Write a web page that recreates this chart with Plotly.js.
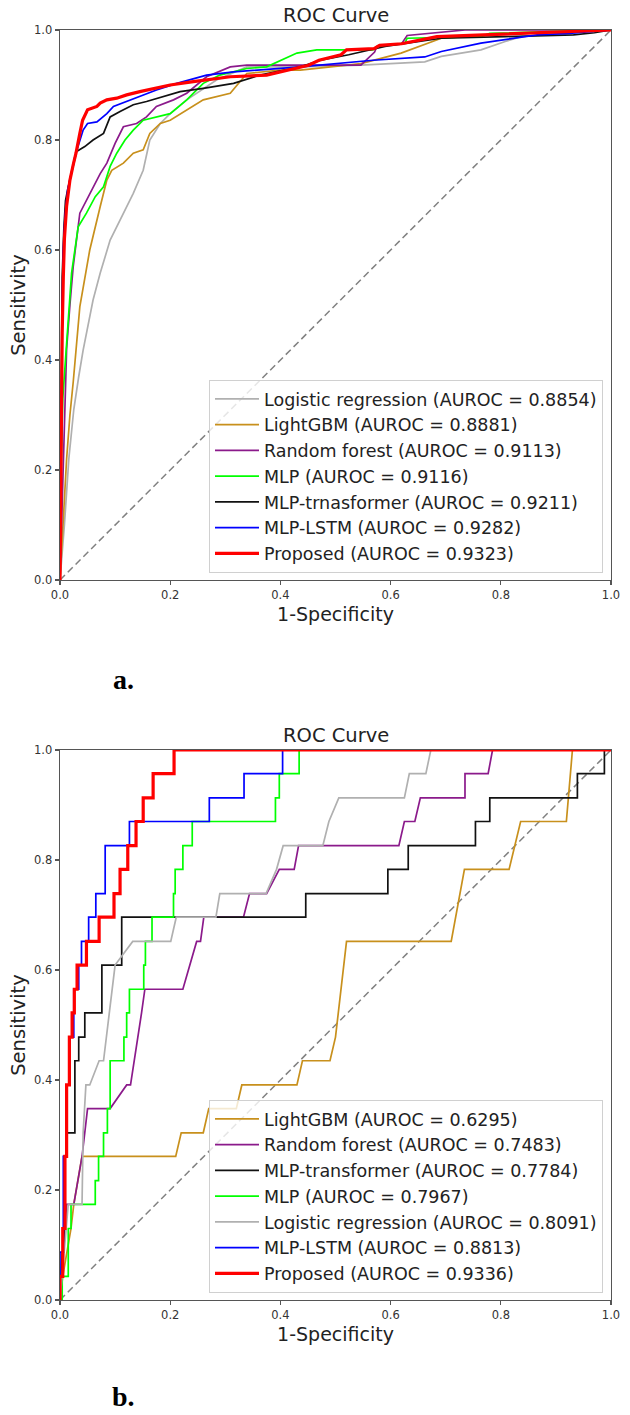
<!DOCTYPE html>
<html>
<head>
<meta charset="utf-8">
<script src="https://cdn.plot.ly/plotly-3.0.1.min.js"></script>
<style>
  html, body { margin: 0; padding: 0; background: #ffffff; }
  #roc { width: 630px; height: 1415px; }
</style>
</head>
<body>
<div id="roc"></div>
<script>
// ---------- Panel a: ROC points (false positive rate / true positive rate) ----------
const lrA_fpr  = [0, 0.008, 0.016, 0.025, 0.034, 0.042, 0.060, 0.073, 0.091, 0.115, 0.133, 0.151, 0.163, 0.182, 0.200, 0.230, 0.284, 0.339, 0.436, 0.546, 0.662, 0.692, 0.764, 0.808, 0.837, 0.920, 1.0];
const lrA_tpr  = [0, 0.100, 0.220, 0.310, 0.370, 0.418, 0.509, 0.558, 0.618, 0.667, 0.703, 0.745, 0.800, 0.830, 0.848, 0.873, 0.909, 0.933, 0.933, 0.936, 0.942, 0.952, 0.964, 0.979, 0.988, 0.995, 1.0];

const gbmA_fpr = [0, 0.006, 0.012, 0.018, 0.024, 0.036, 0.054, 0.073, 0.085, 0.094, 0.115, 0.133, 0.151, 0.163, 0.182, 0.200, 0.230, 0.260, 0.309, 0.339, 0.399, 0.436, 0.546, 0.619, 0.692, 0.837, 1.0];
const gbmA_tpr = [0, 0.120, 0.220, 0.300, 0.360, 0.497, 0.600, 0.679, 0.727, 0.745, 0.758, 0.776, 0.782, 0.812, 0.830, 0.836, 0.855, 0.873, 0.885, 0.921, 0.927, 0.927, 0.939, 0.958, 0.985, 0.994, 1.0];

const rfA_fpr  = [0, 0.004, 0.008, 0.012, 0.018, 0.024, 0.036, 0.054, 0.073, 0.085, 0.100, 0.115, 0.139, 0.157, 0.175, 0.206, 0.230, 0.266, 0.309, 0.339, 0.417, 0.546, 0.571, 0.575, 0.620, 0.630, 0.735, 1.0];
const rfA_tpr  = [0, 0.150, 0.300, 0.420, 0.500, 0.570, 0.667, 0.703, 0.739, 0.758, 0.794, 0.824, 0.830, 0.842, 0.861, 0.873, 0.885, 0.915, 0.933, 0.936, 0.936, 0.936, 0.960, 0.970, 0.975, 0.990, 1.0, 1.0];

const mlpA_fpr = [0, 0.002, 0.005, 0.009, 0.015, 0.021, 0.033, 0.048, 0.064, 0.079, 0.091, 0.103, 0.118, 0.133, 0.151, 0.175, 0.200, 0.230, 0.260, 0.290, 0.339, 0.375, 0.430, 0.466, 0.568, 0.575, 0.626, 0.630, 0.764, 0.780, 1.0];
const mlpA_tpr = [0, 0.200, 0.330, 0.388, 0.479, 0.558, 0.642, 0.667, 0.697, 0.715, 0.752, 0.776, 0.800, 0.818, 0.836, 0.842, 0.848, 0.873, 0.903, 0.918, 0.930, 0.933, 0.958, 0.964, 0.964, 0.970, 0.976, 0.985, 0.988, 0.994, 1.0];

const trfA_fpr = [0, 0.002, 0.004, 0.007, 0.010, 0.014, 0.018, 0.030, 0.045, 0.060, 0.079, 0.091, 0.109, 0.133, 0.157, 0.187, 0.218, 0.260, 0.315, 0.363, 0.436, 0.473, 0.524, 0.590, 0.692, 0.808, 0.932, 0.970, 1.0];
const trfA_tpr = [0, 0.400, 0.550, 0.640, 0.690, 0.710, 0.727, 0.779, 0.788, 0.800, 0.812, 0.842, 0.852, 0.864, 0.870, 0.879, 0.888, 0.894, 0.903, 0.918, 0.933, 0.945, 0.955, 0.970, 0.985, 0.988, 0.991, 0.995, 1.0];

const lstmA_fpr = [0, 0.002, 0.004, 0.006, 0.009, 0.014, 0.020, 0.027, 0.042, 0.050, 0.067, 0.085, 0.097, 0.121, 0.145, 0.175, 0.212, 0.266, 0.315, 0.436, 0.568, 0.662, 0.692, 0.764, 0.866, 0.924, 1.0];
const lstmA_tpr = [0, 0.350, 0.500, 0.600, 0.660, 0.710, 0.740, 0.770, 0.818, 0.830, 0.833, 0.848, 0.861, 0.870, 0.879, 0.891, 0.903, 0.918, 0.924, 0.933, 0.945, 0.951, 0.961, 0.976, 0.991, 0.994, 1.0];

const propA_fpr = [0, 0.002, 0.004, 0.006, 0.008, 0.012, 0.018, 0.024, 0.029, 0.036, 0.041, 0.050, 0.067, 0.073, 0.085, 0.103, 0.121, 0.145, 0.175, 0.200, 0.242, 0.309, 0.375, 0.436, 0.451, 0.470, 0.510, 0.520, 0.570, 0.580, 0.620, 0.684, 0.764, 0.837, 0.910, 1.0];
const propA_tpr = [0, 0.300, 0.450, 0.550, 0.620, 0.680, 0.727, 0.755, 0.776, 0.812, 0.836, 0.855, 0.861, 0.867, 0.873, 0.876, 0.882, 0.888, 0.894, 0.900, 0.906, 0.915, 0.918, 0.933, 0.936, 0.945, 0.955, 0.964, 0.966, 0.972, 0.975, 0.988, 0.991, 0.994, 0.996, 1.0];

// ---------- Panel b: ROC points ----------
const gbmB_fpr = [0, 0.005, 0.020, 0.025, 0.040, 0.210, 0.220, 0.260, 0.270, 0.320, 0.330, 0.430, 0.440, 0.490, 0.500, 0.520, 0.710, 0.734, 0.815, 0.836, 0.919, 0.930, 1.0];
const gbmB_tpr = [0, 0.043, 0.130, 0.174, 0.261, 0.261, 0.304, 0.304, 0.348, 0.348, 0.391, 0.391, 0.435, 0.435, 0.478, 0.652, 0.652, 0.783, 0.783, 0.870, 0.870, 1.0, 1.0];

const rfB_fpr  = [0, 0.006, 0.012, 0.025, 0.040, 0.050, 0.091, 0.121, 0.128, 0.148, 0.154, 0.223, 0.248, 0.255, 0.261, 0.333, 0.344, 0.375, 0.398, 0.425, 0.433, 0.615, 0.625, 0.644, 0.654, 0.735, 0.735, 0.777, 0.785, 1.0];
const rfB_tpr  = [0, 0.087, 0.174, 0.174, 0.261, 0.348, 0.348, 0.391, 0.391, 0.522, 0.565, 0.565, 0.652, 0.652, 0.696, 0.696, 0.739, 0.739, 0.783, 0.783, 0.826, 0.826, 0.870, 0.870, 0.913, 0.913, 0.957, 0.957, 1.0, 1.0];

const trfB_fpr = [0, 0.004, 0.007, 0.007, 0.012, 0.012, 0.027, 0.027, 0.034, 0.034, 0.045, 0.045, 0.076, 0.076, 0.112, 0.112, 0.446, 0.446, 0.595, 0.595, 0.632, 0.632, 0.754, 0.754, 0.780, 0.780, 0.939, 0.939, 0.988, 0.988, 1.0];
const trfB_tpr = [0, 0.087, 0.087, 0.261, 0.261, 0.304, 0.304, 0.435, 0.435, 0.478, 0.478, 0.522, 0.522, 0.609, 0.609, 0.696, 0.696, 0.739, 0.739, 0.783, 0.783, 0.826, 0.826, 0.870, 0.870, 0.913, 0.913, 0.957, 0.957, 1.0, 1.0];

const mlpB_fpr = [0, 0.004, 0.004, 0.015, 0.015, 0.020, 0.020, 0.064, 0.064, 0.070, 0.070, 0.079, 0.079, 0.086, 0.086, 0.091, 0.091, 0.116, 0.116, 0.121, 0.121, 0.126, 0.126, 0.152, 0.152, 0.155, 0.155, 0.167, 0.167, 0.206, 0.206, 0.209, 0.209, 0.223, 0.223, 0.240, 0.240, 0.391, 0.391, 0.398, 0.398, 0.434, 0.434, 1.0];
const mlpB_tpr = [0, 0, 0.043, 0.043, 0.130, 0.130, 0.174, 0.174, 0.217, 0.217, 0.261, 0.261, 0.304, 0.304, 0.348, 0.348, 0.435, 0.435, 0.478, 0.478, 0.522, 0.522, 0.565, 0.565, 0.609, 0.609, 0.652, 0.652, 0.696, 0.696, 0.739, 0.739, 0.783, 0.783, 0.826, 0.826, 0.870, 0.870, 0.913, 0.913, 0.957, 0.957, 1.0, 1.0];

const lrB_fpr  = [0, 0.004, 0.015, 0.040, 0.042, 0.047, 0.054, 0.071, 0.079, 0.100, 0.132, 0.201, 0.211, 0.283, 0.290, 0.374, 0.393, 0.405, 0.477, 0.488, 0.506, 0.625, 0.634, 0.664, 0.673, 1.0];
const lrB_tpr  = [0, 0.043, 0.174, 0.174, 0.304, 0.391, 0.391, 0.435, 0.435, 0.609, 0.652, 0.652, 0.696, 0.696, 0.739, 0.739, 0.783, 0.826, 0.826, 0.870, 0.913, 0.913, 0.957, 0.957, 1.0, 1.0];

const lstmB_fpr = [0, 0, 0.006, 0.006, 0.012, 0.012, 0.018, 0.018, 0.025, 0.025, 0.034, 0.034, 0.039, 0.039, 0.052, 0.052, 0.065, 0.065, 0.082, 0.082, 0.126, 0.126, 0.271, 0.271, 0.334, 0.334, 0.404, 0.404, 1.0];
const lstmB_tpr = [0, 0.087, 0.087, 0.261, 0.261, 0.391, 0.391, 0.478, 0.478, 0.565, 0.565, 0.609, 0.609, 0.652, 0.652, 0.696, 0.696, 0.739, 0.739, 0.826, 0.826, 0.870, 0.870, 0.913, 0.913, 0.957, 0.957, 1.0, 1.0];

const propB_fpr = [0, 0, 0.005, 0.005, 0.009, 0.009, 0.012, 0.012, 0.017, 0.017, 0.022, 0.022, 0.026, 0.026, 0.031, 0.031, 0.048, 0.048, 0.071, 0.071, 0.098, 0.098, 0.109, 0.109, 0.123, 0.123, 0.138, 0.138, 0.151, 0.151, 0.169, 0.169, 0.207, 0.207, 1.0];
const propB_tpr = [0, 0.043, 0.043, 0.130, 0.130, 0.261, 0.261, 0.391, 0.391, 0.478, 0.478, 0.522, 0.522, 0.565, 0.565, 0.609, 0.609, 0.652, 0.652, 0.696, 0.696, 0.739, 0.739, 0.783, 0.783, 0.826, 0.826, 0.870, 0.870, 0.913, 0.913, 0.957, 0.957, 1.0, 1.0];

// ---------- legend labels ----------
const labelsA = ['Logistic regression (AUROC = 0.8854)', 'LightGBM (AUROC = 0.8881)', 'Random forest (AUROC = 0.9113)',
                 'MLP (AUROC = 0.9116)', 'MLP-trnasformer (AUROC = 0.9211)', 'MLP-LSTM (AUROC = 0.9282)', 'Proposed (AUROC = 0.9323)'];
const labelsB = ['LightGBM (AUROC = 0.6295)', 'Random forest (AUROC = 0.7483)', 'MLP-transformer (AUROC = 0.7784)',
                 'MLP (AUROC = 0.7967)', 'Logistic regression (AUROC = 0.8091)', 'MLP-LSTM (AUROC = 0.8813)', 'Proposed (AUROC = 0.9336)'];
const tickVals = [0, 0.2, 0.4, 0.6, 0.8, 1.0];

// ---------- styling ----------
const COL = {
  lr: '#b0b0b0', gbm: '#c8901c', rf: '#8b1a8b', mlp: '#00ff00',
  trf: '#111111', lstm: '#0000ff', prop: '#ff0000'
};
const FONT = 'DejaVu Sans, Verdana, sans-serif';
const W = 630, H = 1415;
// plot boxes in pixels (left, right, top, bottom)
const boxA = {l: 60, r: 611, t: 30, b: 580};
const boxB = {l: 60, r: 611, t: 750, b: 1300};

function curve(x, y, name, color, width, xa, ya, legend) {
  return {
    type: 'scatter', mode: 'lines', x: x, y: y, name: name,
    xaxis: xa, yaxis: ya, legend: legend,
    line: {color: color, width: width, shape: 'linear'},
    hoverinfo: 'skip'
  };
}
function chance(xa, ya) {
  return {
    type: 'scatter', mode: 'lines', x: [0, 1], y: [0, 1], xaxis: xa, yaxis: ya,
    showlegend: false, hoverinfo: 'skip',
    line: {color: '#808080', width: 1.5, dash: '7px,4px'}
  };
}

const traces = [
  chance('x', 'y'),
  curve(lrA_fpr, lrA_tpr, labelsA[0], COL.lr, 1.7, 'x', 'y', 'legend'),
  curve(gbmA_fpr, gbmA_tpr, labelsA[1], COL.gbm, 1.7, 'x', 'y', 'legend'),
  curve(rfA_fpr, rfA_tpr, labelsA[2], COL.rf, 1.7, 'x', 'y', 'legend'),
  curve(mlpA_fpr, mlpA_tpr, labelsA[3], COL.mlp, 1.7, 'x', 'y', 'legend'),
  curve(trfA_fpr, trfA_tpr, labelsA[4], COL.trf, 1.7, 'x', 'y', 'legend'),
  curve(lstmA_fpr, lstmA_tpr, labelsA[5], COL.lstm, 1.7, 'x', 'y', 'legend'),
  curve(propA_fpr, propA_tpr, labelsA[6], COL.prop, 3.2, 'x', 'y', 'legend'),

  chance('x2', 'y2'),
  curve(gbmB_fpr, gbmB_tpr, labelsB[0], COL.gbm, 1.7, 'x2', 'y2', 'legend2'),
  curve(rfB_fpr, rfB_tpr, labelsB[1], COL.rf, 1.7, 'x2', 'y2', 'legend2'),
  curve(trfB_fpr, trfB_tpr, labelsB[2], COL.trf, 1.7, 'x2', 'y2', 'legend2'),
  curve(mlpB_fpr, mlpB_tpr, labelsB[3], COL.mlp, 1.7, 'x2', 'y2', 'legend2'),
  curve(lrB_fpr, lrB_tpr, labelsB[4], COL.lr, 1.7, 'x2', 'y2', 'legend2'),
  curve(lstmB_fpr, lstmB_tpr, labelsB[5], COL.lstm, 1.7, 'x2', 'y2', 'legend2'),
  curve(propB_fpr, propB_tpr, labelsB[6], COL.prop, 3.2, 'x2', 'y2', 'legend2')
];

function xAxis(box, anchor) {
  return {
    domain: [box.l / W, box.r / W], anchor: anchor, range: [0, 1],
    tickvals: tickVals, tickformat: '.1f', ticks: 'outside', ticklen: 4, tickwidth: 1.2,
    tickcolor: '#555', tickfont: {family: FONT, size: 11.5, color: '#333'},
    showline: true, mirror: true, linecolor: '#555', linewidth: 1.4,
    showgrid: false, zeroline: false, fixedrange: true,
    title: {text: '1-Specificity', font: {family: FONT, size: 19, color: '#222'}, standoff: 6}
  };
}
function yAxis(box, anchor) {
  return {
    domain: [1 - box.b / H, 1 - box.t / H], anchor: anchor, range: [0, 1],
    tickvals: tickVals, tickformat: '.1f', ticks: 'outside', ticklen: 4, tickwidth: 1.2,
    tickcolor: '#555', tickfont: {family: FONT, size: 11.5, color: '#333'},
    showline: true, mirror: true, linecolor: '#555', linewidth: 1.4,
    showgrid: false, zeroline: false, fixedrange: true,
    title: {text: 'Sensitivity', font: {family: FONT, size: 19.5, color: '#222'}, standoff: 3}
  };
}
function legendAt(box) {
  return {
    x: 603 / W, xanchor: 'right', y: 1 - (box.b - 7) / H, yanchor: 'bottom',
    bgcolor: 'rgba(255,255,255,0.8)', bordercolor: '#d0d0d0', borderwidth: 1,
    font: {family: FONT, size: 17.5, color: '#222'}, tracegroupgap: 0, itemwidth: 44
  };
}
function panelTitle(box, text) {
  return {
    xref: 'paper', yref: 'paper', x: (box.l + box.r) / 2 / W, y: 1 - (box.t - 1) / H,
    xanchor: 'center', yanchor: 'bottom', showarrow: false, text: text,
    font: {family: FONT, size: 19.5, color: '#222'}
  };
}
function panelTag(yPix, text) {
  return {
    xref: 'paper', yref: 'paper', x: 123 / W, y: 1 - yPix / H,
    xanchor: 'center', yanchor: 'middle', showarrow: false, text: '<b>' + text + '</b>',
    borderpad: 0, font: {family: 'Liberation Serif, Times New Roman, serif', size: 28, color: '#000'}
  };
}

const layout = {
  width: W, height: H, margin: {l: 0, r: 0, t: 0, b: 0},
  paper_bgcolor: '#fff', plot_bgcolor: '#fff', showlegend: true,
  xaxis: xAxis(boxA, 'y'), yaxis: yAxis(boxA, 'x'),
  xaxis2: xAxis(boxB, 'y2'), yaxis2: yAxis(boxB, 'x2'),
  legend: legendAt(boxA), legend2: legendAt(boxB),
  annotations: [
    panelTitle(boxA, 'ROC Curve'), panelTitle(boxB, 'ROC Curve'),
    panelTag(679, 'a.'), panelTag(1396, 'b.')
  ]
};

Plotly.newPlot('roc', traces, layout, {displayModeBar: false, staticPlot: true});
</script>
</body>
</html>
